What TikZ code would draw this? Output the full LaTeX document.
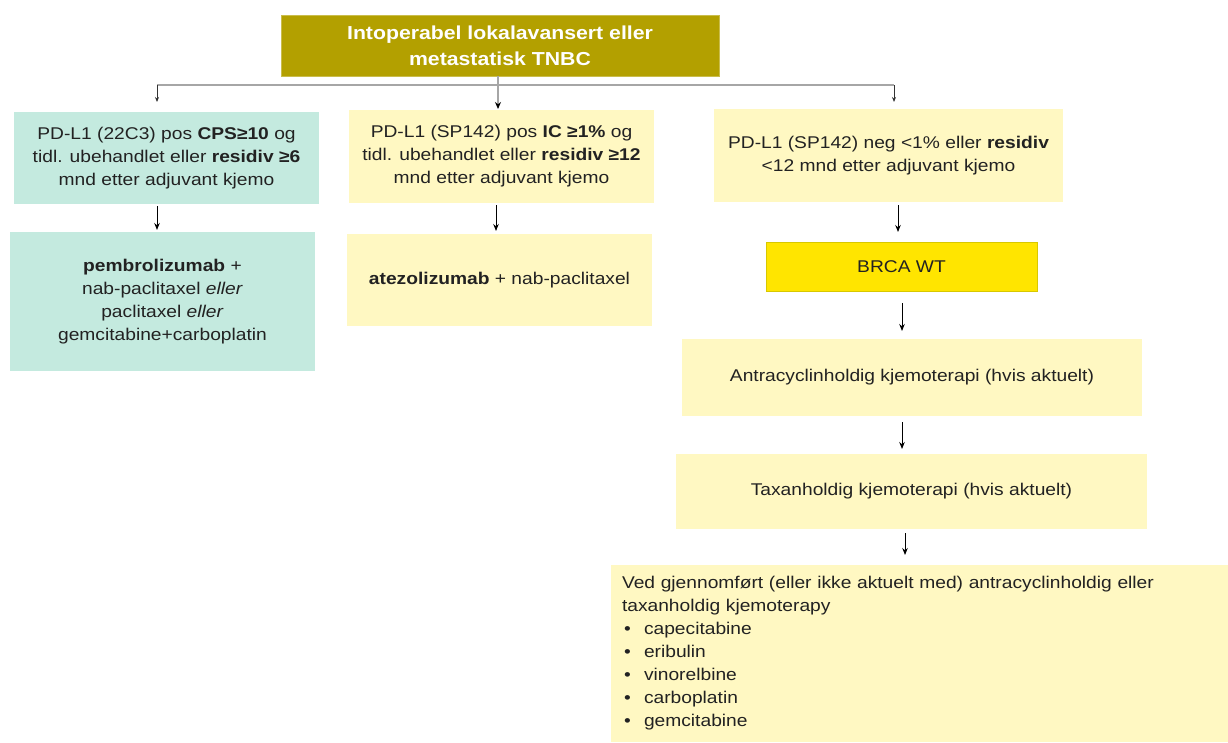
\documentclass[tikz,border=0pt]{standalone}
\usepackage{fontspec}
\setmainfont{Liberation Sans}[FakeStretch=1.13]
\usetikzlibrary{arrows.meta}
\definecolor{teal1}{HTML}{C4EADF}
\definecolor{ylight}{HTML}{FFF8C2}
\definecolor{ybright}{HTML}{FFE500}
\definecolor{ybord}{HTML}{D8C800}
\definecolor{olive1}{HTML}{B3A000}
\definecolor{txt}{HTML}{222222}
\begin{document}
\begin{tikzpicture}[x=1pt,y=-1pt,
  every node/.style={inner sep=0pt, outer sep=0pt, text=txt, font=\fontsize{17}{23}\selectfont},
  tealbox/.style={fill=teal1, align=center},
  ybox/.style={fill=ylight, align=center},
  brcabox/.style={fill=ybright, draw=ybord, line width=0.8pt, align=center},
  topbox/.style={fill=olive1, draw=olive1!70!white, line width=0.8pt, align=center, text=white, font=\fontsize{18.8}{26}\selectfont\bfseries},
  arr/.style={-{Stealth[length=7pt,width=5.5pt]}, line width=1pt, black},
  smallarr/.style={-{Stealth[length=5pt,width=4pt]}, line width=0.9pt, black!80},
  link/.style={line width=1.6pt, gray!70}
]
\useasboundingbox (0,0) rectangle (1228,742);
% top
\node[topbox, minimum width=438pt, minimum height=61pt] (top) at (500,45.5)
  {Intoperabel lokalavansert eller\\metastatisk TNBC};
% row 1
\node[tealbox, minimum width=305pt, minimum height=92pt] (b1) at (166.5,158)
  {PD-L1 (22C3) pos \textbf{CPS≥10} og\\tidl. ubehandlet eller \textbf{residiv ≥6}\\mnd etter adjuvant kjemo};
\node[ybox, minimum width=305pt, minimum height=93pt] (b2) at (501.5,156.5)
  {PD-L1 (SP142) pos \textbf{IC ≥1\%} og\\tidl. ubehandlet eller \textbf{residiv ≥12}\\mnd etter adjuvant kjemo};
\node[ybox, minimum width=349pt, minimum height=93pt] (b3) at (888.5,155.5)
  {PD-L1 (SP142) neg <1\% eller \textbf{residiv}\\<12 mnd etter adjuvant kjemo};
% row 2
\node[tealbox, minimum width=305pt, minimum height=139pt] (c1) at (162.5,301.5)
  {\textbf{pembrolizumab} +\\nab-paclitaxel \textit{eller}\\paclitaxel \textit{eller}\\gemcitabine+carboplatin};
\node[ybox, minimum width=305pt, minimum height=92pt] (c2) at (499.5,280)
  {\textbf{atezolizumab} + nab-paclitaxel};
\node[brcabox, minimum width=271pt, minimum height=49pt] (brca) at (901.5,266.5)
  {BRCA WT};
\node[ybox, minimum width=460pt, minimum height=77pt] (anth) at (912,377.5)
  {Antracyclinholdig kjemoterapi (hvis aktuelt)};
\node[ybox, minimum width=471pt, minimum height=75pt] (tax) at (911.5,491.5)
  {Taxanholdig kjemoterapi (hvis aktuelt)};
\node[ybox, minimum width=617pt, minimum height=177pt, align=left, text width=595pt] (last) at (919.5,653.5)
  {Ved gjennomført (eller ikke aktuelt med) antracyclinholdig eller\\
   taxanholdig kjemoterapy\\
   \makebox[22pt][l]{\hspace{2pt}•}capecitabine\\
   \makebox[22pt][l]{\hspace{2pt}•}eribulin\\
   \makebox[22pt][l]{\hspace{2pt}•}vinorelbine\\
   \makebox[22pt][l]{\hspace{2pt}•}carboplatin\\
   \makebox[22pt][l]{\hspace{2pt}•}gemcitabine};
% connectors
\coordinate (jl) at (157,85);
\coordinate (jm) at (498,85);
\coordinate (jr) at (894,85);
\coordinate (xa) at (157,0);
\coordinate (xb) at (496,0);
\coordinate (xc) at (898,0);
\coordinate (xd) at (902,0);
\coordinate (xe) at (905,0);
\draw[link] (jm |- top.south) -- (jm);
\draw[link] (jl) -- (jr);
\draw[smallarr, shorten >=10pt] (jl) -- (jl |- b1.north);
\draw[link, -{Stealth[length=7pt,width=6pt,color=black]}, shorten >=1pt] (jm) -- (jm |- b2.north);
\draw[smallarr, shorten >=7pt] (jr) -- (jr |- b3.north);
\draw[arr, shorten <=2pt, shorten >=2pt] (b1.south -| xa) -- (c1.north -| xa);
\draw[arr, shorten <=2pt, shorten >=3pt] (b2.south -| xb) -- (c2.north -| xb);
\draw[arr, shorten <=3pt, shorten >=10pt] (b3.south -| xc) -- (brca.north -| xc);
\draw[arr, shorten <=12pt, shorten >=8pt] (brca.south -| xd) -- (anth.north -| xd);
\draw[arr, shorten <=6pt, shorten >=5pt] (anth.south -| xd) -- (tax.north -| xd);
\draw[arr, shorten <=4pt, shorten >=10pt] (tax.south -| xe) -- (last.north -| xe);
\end{tikzpicture}
\end{document}
